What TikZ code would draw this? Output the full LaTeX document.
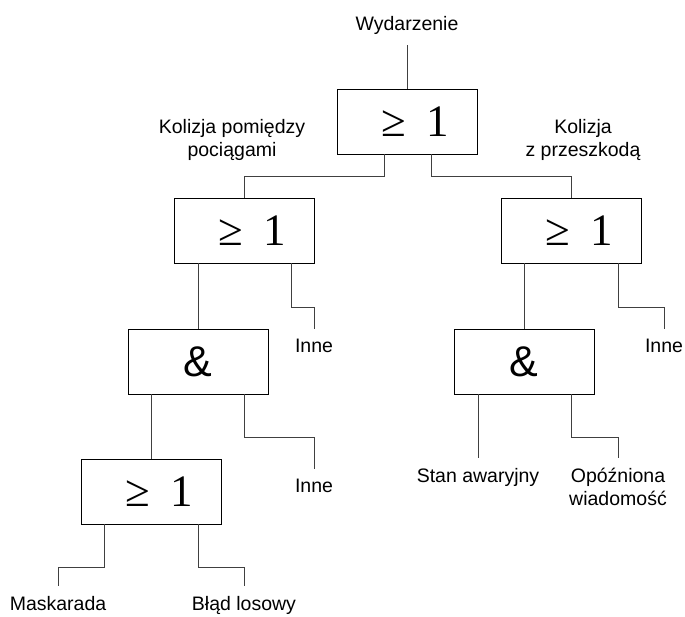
\documentclass[tikz,border=0pt]{standalone}
\usepackage{fontspec}
\setmainfont{Liberation Sans}
\newfontfamily\gatefont{Liberation Serif}
\newcommand{\atleastone}{{\gatefont\hspace{16pt}≥\hspace{20pt}1}}
\tikzset{
	gate/.style={draw=black, line width=0.8pt, minimum width=140pt, minimum height=65pt, inner sep=0pt},
	orgate/.style={gate, font=\fontsize{45}{45}\selectfont},
	andgate/.style={gate, font=\fontsize{43}{43}\selectfont},
	event/.style={inner sep=0pt, outer sep=10pt, align=center, font=\fontsize{19.5}{23}\selectfont},
	wire/.style={draw=black!75, line width=0.8pt}
	}

\begin{document}
\begin{tikzpicture}[x=1pt, y=-1pt]

	\useasboundingbox (0,0) rectangle (685,616);

	% gates
	\node[orgate] (g0) at (407,121.5) {\atleastone};
	\node[orgate] (g1) at (244,230.5) {\atleastone};
	\node[orgate] (g2) at (571,230.5) {\atleastone};
	\node[andgate] (a1) at (198,361.5) {\&};
	\node[andgate] (a2) at (524,361.5) {\&};
	\node[orgate] (g3) at (151,491.5) {\atleastone};

	% events
	\node[event, anchor=south] (wyd) at (407,45) {Wydarzenie};
	\node[event] (kol1) at (232,140) {Kolizja pomiędzy\\pociągami};
	\node[event] (kol2) at (583,140) {Kolizja\\z przeszkodą};
	\node[event, anchor=north] (inne1) at (314,329) {Inne};
	\node[event, anchor=north] (inne2) at (314,469) {Inne};
	\node[event, anchor=north] (inne3) at (664,329) {Inne};
	\node[event, anchor=north] (stan) at (478,458) {Stan awaryjny};
	\node[event, anchor=north] (opoz) at (618,458) {Opóźniona\\wiadomość};
	\node[event, anchor=north] (mask) at (58,586) {Maskarada};
	\node[event, anchor=north] (blad) at (244,586) {Błąd losowy};

	% connections
	\draw[wire] (wyd) -- (g0);
	\draw[wire] ([xshift=-23pt]g0.south) |- ([yshift=21pt]g1.north) -- (g1.north);
	\draw[wire] ([xshift=24pt]g0.south) |- ([yshift=21pt]g2.north) -- (g2.north);
	\draw[wire] ([xshift=-46pt]g1.south) -- (a1.north);
	\draw[wire] ([xshift=47pt]g1.south) |- ([yshift=22pt]inne1.north) -- (inne1.north);
	\draw[wire] ([xshift=-47pt]g2.south) -- (a2.north);
	\draw[wire] ([xshift=47pt]g2.south) |- ([yshift=22pt]inne3.north) -- (inne3.north);
	\draw[wire] ([xshift=-47pt]a1.south) -- (g3.north);
	\draw[wire] ([xshift=46pt]a1.south) |- ([yshift=32pt]inne2.north) -- (inne2.north);
	\draw[wire] ([xshift=-46pt]a2.south) -- (stan.north);
	\draw[wire] ([xshift=47pt]a2.south) |- ([yshift=21pt]opoz.north) -- (opoz.north);
	\draw[wire] ([xshift=-47pt]g3.south) |- ([yshift=19pt]mask.north) -- (mask.north);
	\draw[wire] ([xshift=47pt]g3.south) |- ([yshift=19pt]blad.north) -- (blad.north);

\end{tikzpicture}
\end{document}
